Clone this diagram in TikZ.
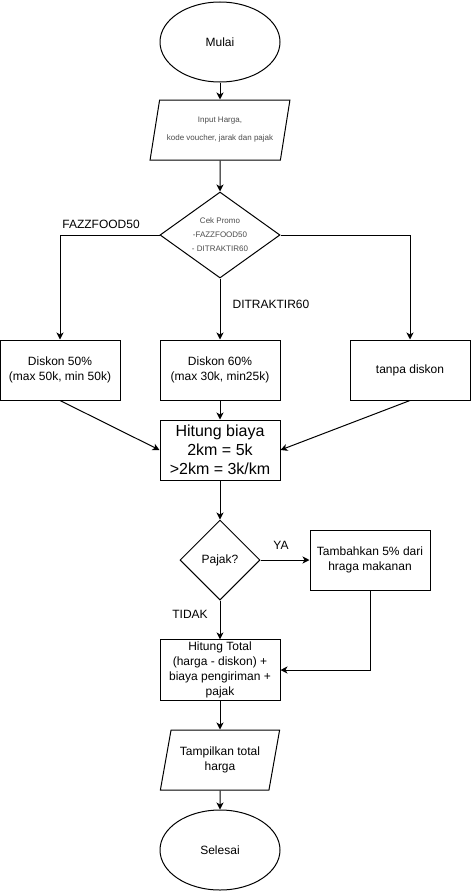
\documentclass[tikz,border=0pt]{standalone}
\usepackage{fontspec}
\setmainfont{Liberation Sans}
\usetikzlibrary{shapes.geometric,arrows.meta}
\tikzstyle{Terminal}=[ellipse, draw=black, line width=1pt, minimum width=120pt, minimum height=80pt, inner sep=0pt, font=\fontsize{12}{15}\selectfont]
\tikzstyle{Process}=[rectangle, draw=black, line width=1pt, minimum width=120pt, minimum height=60pt, inner sep=2pt, align=center, font=\fontsize{12}{15}\selectfont]
\tikzstyle{BigProcess}=[Process, font=\fontsize{16}{19}\selectfont]
\tikzstyle{Data}=[trapezium, trapezium left angle=71.57, trapezium right angle=108.43, trapezium stretches=true, draw=black, line width=1pt, minimum width=120pt, minimum height=60pt, inner sep=0pt, align=center, font=\fontsize{12}{15}\selectfont]
\tikzstyle{SmallData}=[Data, minimum width=140pt, text=black!70, font=\fontsize{8}{18}\selectfont]
\tikzstyle{Decision}=[diamond, draw=black, line width=1pt, inner sep=0pt, align=center, font=\fontsize{12}{15}\selectfont]
\tikzstyle{Flow}=[-{Stealth[length=7pt,width=7pt,inset=2pt]}, line width=1pt]
\tikzstyle{FlowLabel}=[inner sep=0pt, font=\fontsize{12}{14}\selectfont]

\begin{document}
\begin{tikzpicture}[x=1pt, y=-1pt]
\useasboundingbox[fill=white] (0,0) rectangle (471,891);

\node[Terminal](Mulai) at (220,42) {Mulai};
\node[SmallData](Input) at (220,130) {Input Harga,\\kode voucher, jarak dan pajak};
\node[Decision, aspect=1.4, minimum width=120pt, minimum height=86pt, text=black!70, font=\fontsize{8}{14}\selectfont](Cek) at (220,235) {Cek Promo\\-FAZZFOOD50\\- DITRAKTIR60};
\node[Process](Diskon50) at (60,370) {Diskon 50\%\\(max 50k, min 50k)};
\node[Process](Diskon60) at (220,370) {Diskon 60\%\\(max 30k, min25k)};
\node[Process](Tanpa) at (410,370) {tanpa diskon};
\node[BigProcess](Biaya) at (220,450) {Hitung biaya\\2km = 5k\\>2km = 3k/km};
\node[Decision, minimum width=80pt, minimum height=80pt](Pajak) at (220,560) {Pajak?};
\node[Process](Tambah) at (370,560) {Tambahkan 5\% dari\\hraga makanan};
\node[Process](Total) at (220,670) {Hitung Total\\(harga - diskon) +\\biaya pengiriman +\\pajak};
\node[Data](Tampil) at (220,760) {Tampilkan total\\harga};
\node[Terminal](Selesai) at (220,850) {Selesai};

\node[FlowLabel](LblFazz) at (101,224) {FAZZFOOD50};
\node[FlowLabel](LblDitraktir) at (271,304) {DITRAKTIR60};
\node[FlowLabel](LblYa) at (281,545) {YA};
\node[FlowLabel](LblTidak) at (190,614) {TIDAK};

\draw[Flow](Mulai) -- (Input);
\draw[Flow](Input) -- (Cek);
\draw[Flow](Cek) -| (Diskon50);
\draw[Flow](Cek) -- (Diskon60);
\draw[Flow](Cek) -| (Tanpa);
\draw[Flow](Diskon50.south) -- (Biaya.west);
\draw[Flow](Diskon60) -- (Biaya);
\draw[Flow](Tanpa.south) -- (Biaya.east);
\draw[Flow](Biaya) -- (Pajak);
\draw[Flow](Pajak) -- (Tambah);
\draw[Flow](Pajak) -- (Total);
\draw[Flow](Tambah) |- (Total);
\draw[Flow](Total) -- (Tampil);
\draw[Flow](Tampil) -- (Selesai);
\end{tikzpicture}
\end{document}
